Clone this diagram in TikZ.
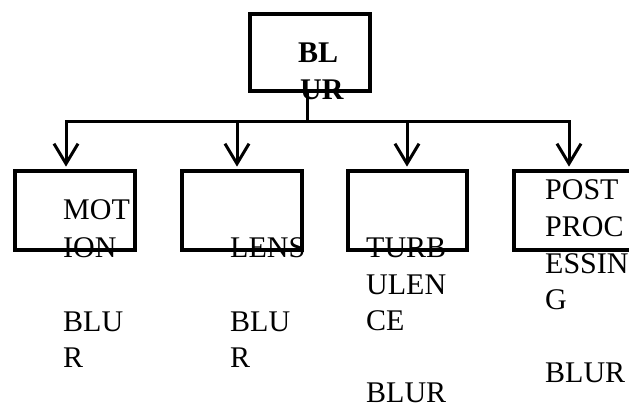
\documentclass[tikz,border=0pt]{standalone}
\usepackage{fontspec}
\setmainfont{Liberation Serif}
\usetikzlibrary{arrows.meta}
\begin{document}
\begin{tikzpicture}[x=1pt,y=-1pt,
  boxnode/.style={draw=black,line width=4.8pt,minimum width=120pt,minimum height=79pt,inner sep=0pt},
  txt/.style={anchor=base west,inner sep=0pt,font=\fontsize{30}{36.7}\selectfont},
  btxt/.style={txt,font=\fontsize{30}{36.7}\selectfont\bfseries},
  conn/.style={line width=3pt},
  arr/.style={conn,-{Straight Barb[length=20pt,width=24pt,line width=3pt]},shorten >=2pt}]
\useasboundingbox (0,0) rectangle (629,406);
\clip (0,0) rectangle (629,406);
\node[boxnode,minimum height=77pt] (top) at (310,52.5) {};
\node[boxnode] (m1) at (75,210.5) {};
\node[boxnode] (m2) at (242,210.5) {};
\node[boxnode,minimum width=119pt] (m3) at (407.5,210.5) {};
\node[boxnode] (m4) at (574,210.5) {};
% bus
\coordinate (j) at (307,122);
\coordinate (c1) at (66,122);
\coordinate (c2) at (237,122);
\coordinate (c3) at (407,122);
\coordinate (c4) at (569,122);
\draw[conn] (top.south -| j) -- (j);
\draw[conn,line cap=rect] (c1) -- (c4);
\draw[arr] (c1) -- (c1 |- m1.north);
\draw[arr] (c2) -- (c2 |- m2.north);
\draw[arr] (c3) -- (c3 |- m3.north);
\draw[arr] (c4) -- (c4 |- m4.north);
% texts
\node[btxt] (t1) at (298,63) {BL};
\node[btxt] (t2) at (300,100) {UR};
\node[txt] (a1) at (63,220) {MOT};
\node[txt] (a2) at (63,257) {ION};
\node[txt] (a3) at (63,331) {BLU};
\node[txt] (a4) at (63,367) {R};
\node[txt] (b1) at (230,257) {LENS};
\node[txt] (b2) at (230,331) {BLU};
\node[txt] (b3) at (230,367) {R};
\node[txt] (c1t) at (366,257) {TURB};
\node[txt] (c2t) at (366,294) {ULEN};
\node[txt] (c3t) at (366,330) {CE};
\node[txt] (c4t) at (366,402) {BLUR};
\node[txt] (d1) at (545,200) {POST};
\node[txt] (d2) at (545,236.5) {PROC};
\node[txt] (d3) at (545,273) {ESSIN};
\node[txt] (d4) at (545,309.5) {G};
\node[txt] (d5) at (545,382.5) {BLUR};
\end{tikzpicture}
\end{document}
